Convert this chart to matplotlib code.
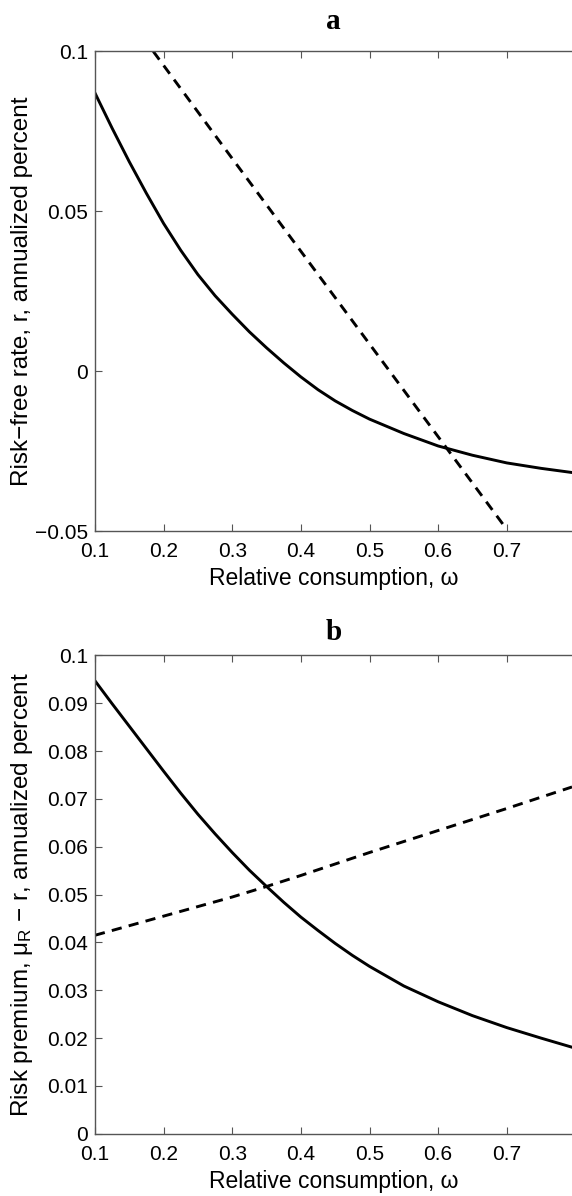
import matplotlib
matplotlib.use('Agg')
import matplotlib.pyplot as plt

plt.rcParams['font.family'] = ['Liberation Sans', 'DejaVu Sans']
plt.rcParams['mathtext.fontset'] = 'custom'
plt.rcParams['mathtext.rm'] = 'Liberation Sans'
plt.rcParams['mathtext.it'] = 'Liberation Sans'
plt.rcParams['mathtext.default'] = 'regular'

# panel a: risk-free rate
omega_a = [0.1, 0.125, 0.15, 0.175, 0.2, 0.225, 0.25, 0.275, 0.3, 0.325, 0.35, 0.375, 0.4,
           0.425, 0.45, 0.475, 0.5, 0.55, 0.6, 0.65, 0.7, 0.75, 0.795]
rf_solid = [0.087, 0.0760, 0.0655, 0.0556, 0.0462, 0.0378, 0.0302, 0.0236, 0.0178, 0.0123,
            0.0073, 0.0026, -0.0018, -0.0058, -0.0093, -0.0123, -0.0150, -0.0195, -0.0234,
            -0.0263, -0.0287, -0.0304, -0.0317]
omega_a_dash = [0.185, 0.3, 0.4, 0.5, 0.6, 0.7]
rf_dash = [0.1, 0.0665, 0.0375, 0.0085, -0.0205, -0.0495]

# panel b: risk premium
omega_b = [0.1, 0.125, 0.15, 0.175, 0.2, 0.225, 0.25, 0.275, 0.3, 0.325, 0.35, 0.375, 0.4,
           0.425, 0.45, 0.475, 0.5, 0.55, 0.6, 0.65, 0.7, 0.75, 0.795]
rp_solid = [0.0947, 0.0899, 0.0852, 0.0805, 0.0758, 0.0712, 0.0668, 0.0627, 0.0588, 0.0551,
            0.0517, 0.0484, 0.0453, 0.0425, 0.0398, 0.0373, 0.0350, 0.0309, 0.0276, 0.0247,
            0.0222, 0.0200, 0.0181]
omega_b_dash = [0.1, 0.2, 0.3, 0.35, 0.4, 0.5, 0.6, 0.7, 0.795]
rp_dash = [0.0415, 0.0455, 0.0495, 0.0517, 0.0540, 0.0588, 0.0634, 0.0680, 0.0725]

xticks = [0.1, 0.2, 0.3, 0.4, 0.5, 0.6, 0.7]
xticklabels = ['0.1', '0.2', '0.3', '0.4', '0.5', '0.6', '0.7']
yticks_a = [-0.05, 0, 0.05, 0.1]
yticklabels_a = ['\u22120.05', '0', '0.05', '0.1']
yticks_b = [0, 0.01, 0.02, 0.03, 0.04, 0.05, 0.06, 0.07, 0.08, 0.09, 0.1]
yticklabels_b = ['0', '0.01', '0.02', '0.03', '0.04', '0.05', '0.06', '0.07', '0.08', '0.09', '0.1']

fig = plt.figure(figsize=(5.72, 11.96), dpi=100)
ax_a = fig.add_axes([0.166, 0.556, 0.834, 0.401])
ax_b = fig.add_axes([0.166, 0.052, 0.834, 0.400])

spine_col = '#555555'


def style(ax):
    ax.set_xlim(0.1, 0.795)
    ax.set_xticks(xticks)
    ax.set_xticklabels(xticklabels)
    ax.tick_params(direction='in', length=5, width=0.8, color=spine_col, labelsize=15,
                   top=True, right=False)
    ax.tick_params(axis='x', pad=8)
    ax.tick_params(axis='y', pad=5)
    for s in ['left', 'bottom', 'top']:
        ax.spines[s].set_color(spine_col)
        ax.spines[s].set_linewidth(1.0)
    ax.spines['right'].set_visible(False)
    ax.set_xlabel('Relative consumption, \u03c9', fontsize=16.5)
    ax.xaxis.set_label_coords(0.5, -0.075)
    ax.yaxis.set_label_coords(-0.153, 0.5)


ax_a.plot(omega_a, rf_solid, color='black', lw=2.1)
ax_a.plot(omega_a_dash, rf_dash, color='black', lw=2.1, dashes=(3.5, 2.5))
style(ax_a)
ax_a.set_ylim(-0.05, 0.1)
ax_a.set_yticks(yticks_a)
ax_a.set_yticklabels(yticklabels_a)
ax_a.set_ylabel('Risk\u2212free rate, r, annualized percent', fontsize=17.5, va='center')
ax_a.text(0.5, 1.062, 'a', transform=ax_a.transAxes, ha='center', va='center',
          fontsize=21, fontweight='bold', family='Liberation Serif')

ax_b.plot(omega_b, rp_solid, color='black', lw=2.1)
ax_b.plot(omega_b_dash, rp_dash, color='black', lw=2.1, dashes=(3.5, 2.5))
style(ax_b)
ax_b.spines['top'].set_linestyle((0, (1, 1)))
ax_b.set_ylim(0, 0.1)
ax_b.set_yticks(yticks_b)
ax_b.set_yticklabels(yticklabels_b)
ax_b.set_ylabel('Risk premium, $\\mu_R$ \u2212 r, annualized percent', fontsize=17.5, va='center')
ax_b.text(0.5, 1.048, 'b', transform=ax_b.transAxes, ha='center', va='center',
          fontsize=21, fontweight='bold', family='Liberation Serif')

fig.savefig('out.png', dpi=100)
plt.close(fig)
